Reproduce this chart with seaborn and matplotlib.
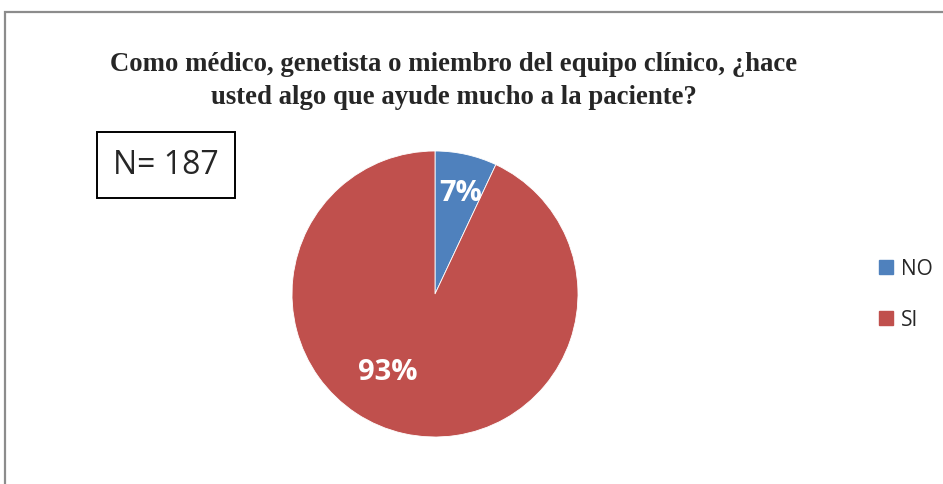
import matplotlib
matplotlib.use("Agg")
import matplotlib.pyplot as plt
import matplotlib.patches as mpatches
from matplotlib.lines import Line2D
import seaborn as sns

categories = ["NO", "SI"]
values = [7, 93]
colors = ["#4F81BD", "#C0504D"]
title = "Como médico, genetista o miembro del equipo clínico, ¿hace\nusted algo que ayude mucho a la paciente?"
n_label = "N= 187"

sns.set_style("white")
plt.rcParams['font.family'] = ['Liberation Sans', 'DejaVu Sans']

W, H = 943, 485
fig = plt.figure(figsize=(W / 100, H / 100), dpi=100)

# outer chart frame
frame = mpatches.Rectangle((5 / W, -0.05), 1.2, 1 - 13 / H + 0.05,
                           transform=fig.transFigure, fill=False,
                           edgecolor="#8c8c8c", linewidth=1.6, zorder=0)
fig.patches.append(frame)

# pie axes
cx, cy, r = 435, 295, 143
ax = fig.add_axes([(cx - r) / W, (H - cy - r) / H, 2 * r / W, 2 * r / H])
wedges, texts, autotexts = ax.pie(
    values, colors=colors, startangle=90, counterclock=False,
    autopct=lambda p: f"{p:.0f}%", pctdistance=0.73, radius=1,
    wedgeprops=dict(linewidth=0.6, edgecolor="white"),
    textprops=dict(color="white", fontsize=21, fontweight="bold",
                   family=["Open Sans", "DejaVu Sans"]))
ax.set_xlim(-1, 1)
ax.set_ylim(-1, 1)
ax.set_aspect("equal")
ax.axis("off")
# shift the labels like the original
autotexts[1].set_position((-0.33, -0.54))
autotexts[0].set_position((0.18, 0.71))

# title
fig.text(454 / W, 1 - 81 / H, title, ha="center", va="center",
         fontsize=19.3, fontweight="bold", family=["Liberation Serif"],
         linespacing=1.45)

# N box
fig.text(166 / W, 1 - 166 / H, n_label, ha="center", va="center", fontsize=23,
         family=["Open Sans", "DejaVu Sans"],
         bbox=dict(boxstyle="square,pad=0.52", facecolor="white",
                   edgecolor="black", linewidth=1.4))

# legend
handles = [Line2D([0], [0], marker="s", linestyle="", markersize=10,
                  markerfacecolor=c, markeredgecolor=c) for c in colors]
fig.legend(handles, categories, loc="center left",
           bbox_to_anchor=(857 / W, 1 - 295 / H), frameon=False,
           handletextpad=0.2, labelspacing=1.45,
           handlelength=1.0, prop=dict(family=["Open Sans"], size=15))

fig.savefig("out.png", dpi=100)
